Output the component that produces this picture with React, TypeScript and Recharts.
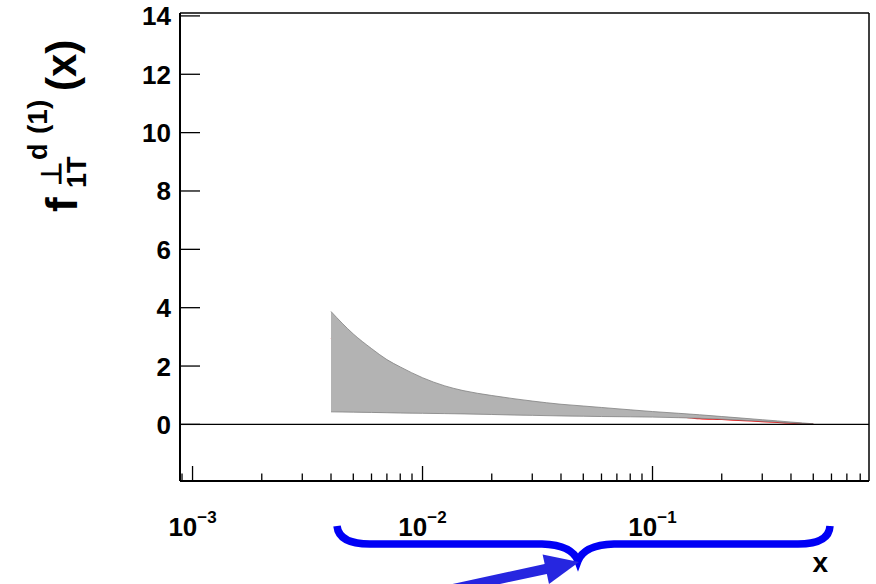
import { ComposedChart, Area, XAxis, YAxis, ReferenceLine } from 'recharts'

// x grid of the band (log spaced)
const xValues = [
  0.004, 0.005, 0.006, 0.007, 0.008, 0.01, 0.0125, 0.015, 0.02, 0.025, 0.03, 0.04,
  0.05, 0.06, 0.08, 0.1, 0.13, 0.16, 0.2, 0.25, 0.3, 0.35, 0.4, 0.45, 0.5,
]
const upperValues = [
  3.87, 3.1, 2.6, 2.22, 1.97, 1.6, 1.32, 1.16, 0.99, 0.88, 0.8, 0.69,
  0.63, 0.58, 0.5, 0.44, 0.38, 0.33, 0.27, 0.21, 0.16, 0.12, 0.08, 0.05, 0.02,
]
const lowerValues = [
  0.43, 0.42, 0.41, 0.4, 0.39, 0.38, 0.37, 0.36, 0.34, 0.32, 0.31, 0.29,
  0.28, 0.27, 0.26, 0.25, 0.23, 0.21, 0.18, 0.14, 0.11, 0.08, 0.05, 0.03, 0.015,
]
const centralValues = [
  2.97, 2.4, 2.0, 1.75, 1.55, 1.25, 1.03, 0.9, 0.74, 0.64, 0.58, 0.5,
  0.45, 0.42, 0.36, 0.32, 0.27, 0.2, 0.17, 0.13, 0.1, 0.07, 0.045, 0.025, 0.01,
]

const xMajorTicks = [0.001, 0.01, 0.1]
const xTickExponents = ['\u22123', '\u22122', '\u22121']
const xMinorTicks = [
  0.0009,
  0.002, 0.003, 0.004, 0.005, 0.006, 0.007, 0.008, 0.009,
  0.02, 0.03, 0.04, 0.05, 0.06, 0.07, 0.08, 0.09,
  0.2, 0.3, 0.4, 0.5, 0.6, 0.7, 0.8,
]
const yTicks = [0, 2, 4, 6, 8, 10, 12, 14]

const X_MIN = 0.000882
const X_MAX = 0.8736
const Y_MIN = -1.94
const Y_MAX = 14.1

const FONT = '"Liberation Sans", Arial, Helvetica, sans-serif'

const data = xValues.map((x, i) => ({
  x,
  band: [lowerValues[i], upperValues[i]],
  mid: centralValues[i],
}))

const allXTicks = [...xMajorTicks, ...xMinorTicks].sort((a, b) => a - b)

function XTick(props: any) {
  const { x, y, payload } = props
  const i = xMajorTicks.indexOf(payload.value)
  const len = i >= 0 ? 15 : 7.5
  return (
    <g>
      <line x1={x} x2={x} y1={y} y2={y - len} stroke="#000" strokeWidth={1.3} />
      {i >= 0 && (
        <text x={x} y={y + 55} textAnchor="middle" fontFamily={FONT} fontWeight="bold" fontSize={26} fill="#000">
          <tspan>10</tspan>
          <tspan dy={-13} fontSize={17}>{xTickExponents[i]}</tspan>
        </text>
      )}
    </g>
  )
}

function YTick(props: any) {
  const { x, y, payload } = props
  return (
    <g>
      <line x1={x} x2={x + 20} y1={y} y2={y} stroke="#000" strokeWidth={1.3} />
      <text x={x - 9} y={y} dy={9.5} textAnchor="end" fontFamily={FONT} fontWeight="bold" fontSize={26} fill="#000">
        {payload.value}
      </text>
    </g>
  )
}

export default function App() {
  return (
    <div style={{ position: 'absolute', left: 0, top: 0, width: 876, height: 584, background: '#fff' }}>
      <ComposedChart
        width={876}
        height={584}
        data={data}
        margin={{ top: 13, right: 7, left: 120, bottom: 43 }}
      >
        <XAxis
          dataKey="x"
          type="number"
          scale="log"
          domain={[X_MIN, X_MAX]}
          allowDataOverflow
          ticks={allXTicks}
          interval={0}
          height={60}
          tickSize={0}
          tickMargin={0}
          tickLine={false}
          tick={<XTick />}
          axisLine={{ stroke: '#000', strokeWidth: 2 }}
        />
        <YAxis
          type="number"
          domain={[Y_MIN, Y_MAX]}
          allowDataOverflow
          ticks={yTicks}
          interval={0}
          width={60}
          tickSize={0}
          tickMargin={0}
          tickLine={false}
          tick={<YTick />}
          axisLine={{ stroke: '#000', strokeWidth: 2 }}
        />
        <ReferenceLine y={Y_MAX} stroke="#000" strokeWidth={1.5} />
        <ReferenceLine x={X_MAX} stroke="#000" strokeWidth={1.5} />
        <ReferenceLine y={0} stroke="#000" strokeWidth={1.2} />
        {/* central curve drawn first so the band covers it (only the tail shows) */}
        <Area
          dataKey="mid"
          type="monotone"
          fill="none"
          stroke="#ff0000"
          strokeWidth={1.3}
          dot={false}
          activeDot={false}
          isAnimationActive={false}
        />
        <Area
          dataKey="band"
          type="monotone"
          fill="#b3b3b3"
          fillOpacity={1}
          stroke="#808080"
          strokeWidth={0.8}
          isAnimationActive={false}
        />
      </ComposedChart>

      {/* axis titles and the blue brace/arrow annotation */}
      <svg
        width={876}
        height={584}
        style={{ position: 'absolute', left: 0, top: 0, pointerEvents: 'none' }}
      >
        <g fontFamily={FONT} fontWeight="bold" fill="#000" transform="rotate(-90)">
          <text x={-212} y={77} fontSize={44}>f</text>
          <text x={-188} y={86} fontSize={27}>1T</text>
          <text x={-186} y={61} fontSize={28}>{'\u22A5'}</text>
          <text x={-160} y={47} fontSize={27}>d</text>
          <text x={-134} y={47} fontSize={28}>(1)</text>
          <text x={-91} y={76} fontSize={42}>(x)</text>
        </g>
        <text x={828} y={572} textAnchor="end" fontFamily={FONT} fontWeight="bold" fontSize={28} fill="#000">
          x
        </text>
        <path
          d="M 337 526 Q 339 544 370 544 L 542 544 Q 572 545 578 561 Q 584 545 614 544 L 798 544 Q 829 544 830 526"
          fill="none"
          stroke="#0000f5"
          strokeWidth={7.5}
        />
        <line x1={430} y1={594} x2={548} y2={568.5} stroke="#2626e0" strokeWidth={10} />
        <polygon points="579,562 549,584 542.6,554.5" fill="#2626e0" />
      </svg>
    </div>
  )
}
